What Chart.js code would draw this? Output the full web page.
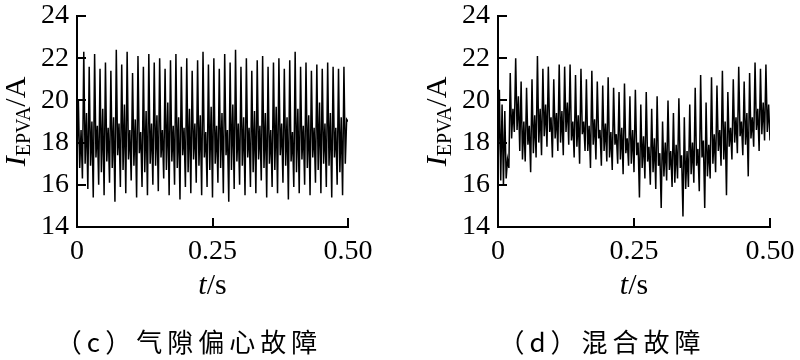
<!DOCTYPE html>
<html>
<head>
<meta charset="utf-8">
<script src="https://cdn.jsdelivr.net/npm/chart.js@4.4.1/dist/chart.umd.min.js"></script>
<style>
  body { margin: 0; background: #fff; }
  #wrap { display: flex; width: 800px; height: 360px; }
  canvas { display: block; }
</style>
</head>
<body>
<div id="wrap">
  <canvas id="panelC" width="400" height="360"></canvas>
  <canvas id="panelD" width="400" height="360"></canvas>
</div>
<script>
// sampling step of the current traces (s)
const sampleStep = 0.0025;

// (c) air-gap eccentricity fault, current I_EPVA in A
const gapFaultCurrent = [
  17.2, 20.0, 16.8, 18.6,  16.3, 22.3, 17.0, 19.4,  15.8, 21.6, 16.9, 19.0,  15.4, 22.2, 17.3, 18.8,
  16.0, 21.5, 16.6, 19.6,  15.5, 21.8, 17.1, 18.7,  16.1, 21.4, 16.8, 19.2,  15.2, 22.4, 17.4, 18.9,
  15.9, 21.7, 16.7, 19.8,  15.6, 22.3, 17.2, 18.6,  16.2, 21.3, 16.9, 19.1,  15.4, 22.1, 17.5, 18.5,
  15.9, 21.6, 16.6, 19.5,  15.5, 22.2, 17.0, 18.9,  16.0, 21.8, 16.9, 19.3,  15.7, 22.0, 17.3, 18.6,
  16.3, 21.5, 16.7, 19.9,  15.5, 21.9, 17.1, 18.8,  16.0, 22.2, 16.8, 19.2,  15.3, 21.6, 17.4, 18.7,
  15.9, 22.0, 16.6, 19.6,  15.6, 21.4, 17.2, 18.9,  16.1, 21.9, 16.9, 19.3,  15.5, 22.3, 17.3, 18.5,
  15.9, 21.7, 16.7, 19.7,  15.4, 22.0, 17.0, 18.8,  16.1, 21.5, 16.8, 19.4,  15.6, 22.2, 17.4, 18.6,
  15.2, 21.8, 16.7, 19.8,  15.8, 22.4, 17.1, 18.9,  16.0, 21.6, 16.9, 19.2,  15.5, 22.0, 17.3, 18.7,
  15.9, 21.4, 16.6, 19.5,  15.6, 21.9, 17.2, 18.8,  16.2, 22.1, 16.8, 19.4,  15.4, 21.6, 17.0, 18.6,
  15.9, 21.8, 16.7, 19.7,  15.6, 22.0, 17.4, 18.9,  16.1, 21.5, 16.9, 19.2,  15.3, 21.9, 17.1, 18.5,
  15.9, 22.3, 16.6, 19.6,  15.6, 21.6, 17.2, 18.8,  16.0, 21.8, 16.8, 19.3,  15.5, 21.4, 17.3, 18.7,
  16.1, 21.7, 16.7, 19.9,  15.6, 21.5, 17.0, 18.9,  15.9, 21.8, 16.9, 19.4,  15.4, 21.6, 17.3, 18.7,
  16.0, 21.5, 16.6, 19.2,  15.5, 21.6, 17.0, 19.1,
  19.0
];

// (d) mixed fault, current I_EPVA in A
const mixedFaultCurrent = [
  16.5, 20.5, 16.2, 19.8,  16.0, 19.5, 16.3, 17.2,  16.8, 21.3, 18.2, 19.6,  18.5, 22.0, 18.6, 20.2,
  17.6, 20.9, 17.2, 19.0,  17.1, 20.6, 17.9, 18.8,  16.6, 21.0, 17.5, 19.3,  17.3, 22.1, 18.0, 19.6,
  17.4, 21.5, 18.3, 19.8,  17.8, 21.6, 18.5, 19.2,  17.3, 21.0, 18.2, 19.4,  17.6, 21.7, 18.0, 19.5,
  17.4, 21.6, 18.5, 19.9,  17.9, 21.7, 18.1, 19.0,  17.3, 21.2, 17.8, 19.3,  17.0, 21.5, 18.4, 19.0,
  17.6, 21.0, 17.6, 18.8,  16.8, 21.4, 17.9, 19.1,  17.2, 20.9, 18.2, 18.6,  16.9, 20.7, 17.6, 18.9,
  17.1, 21.1, 17.3, 18.5,  16.7, 20.6, 17.9, 18.4,  17.0, 20.4, 17.2, 18.7,  16.5, 20.8, 17.5, 18.2,
  16.9, 20.2, 17.0, 18.6,  16.6, 20.5, 17.4, 18.0,  15.4, 19.8, 16.8, 18.3,  16.3, 20.4, 17.1, 17.8,
  16.0, 19.6, 16.6, 18.2,  15.8, 20.2, 16.9, 17.5,  14.9, 19.0, 16.4, 18.0,  16.2, 20.0, 16.7, 17.6,
  15.9, 19.4, 16.1, 17.9,  16.3, 20.1, 16.8, 17.4,  14.5, 19.2, 15.8, 17.6,  15.9, 19.8, 16.5, 18.0,
  16.1, 20.6, 16.9, 17.7,  15.7, 21.2, 17.3, 18.1,  14.9, 19.9, 16.4, 17.9,  16.3, 21.1, 17.0, 18.4,
  16.6, 20.7, 17.6, 18.6,  16.9, 21.4, 17.2, 19.0,  15.5, 20.4, 17.8, 18.7,  17.2, 21.0, 18.0, 19.2,
  17.5, 21.6, 18.3, 19.0,  17.4, 20.9, 17.9, 19.4,  16.4, 21.3, 18.2, 19.2,  17.8, 21.8, 18.6, 19.6,
  17.6, 21.5, 18.4, 19.9,  18.1, 21.7, 18.5, 19.8,
  18.1
];

const yMin = 14;
const yMax = 24;
const yStep = 2;
const xTicks = [0, 0.25, 0.5];
const xTickLabels = ['0', '0.25', '0.50'];
const captions = ['（c）气隙偏心故障', '（d）混合故障'];

const serif = 'Liberation Serif';

// draws a string made of pieces with their own font and baseline shift
function drawPieces(ctx, pieces, cx, baseY) {
  let total = 0;
  pieces.forEach(p => { ctx.font = p.font; p.w = ctx.measureText(p.text).width; total += p.w; });
  let x = cx - total / 2;
  pieces.forEach(p => {
    ctx.font = p.font;
    ctx.fillText(p.text, x, baseY + (p.dy || 0));
    x += p.w;
  });
}

const panelText = {
  id: 'panelText',
  afterDraw(chart, args, opts) {
    const ctx = chart.ctx;
    const a = chart.chartArea;
    ctx.save();
    ctx.fillStyle = '#000';
    ctx.textAlign = 'left';
    ctx.textBaseline = 'alphabetic';

    // y title: I_EPVA/A
    ctx.save();
    ctx.translate(opts.yTitleX, (a.top + a.bottom) / 2);
    ctx.rotate(-Math.PI / 2);
    drawPieces(ctx, [
      { text: 'I', font: 'italic 30px ' + serif },
      { text: 'EPVA', font: '20px ' + serif, dy: 5 },
      { text: '/A', font: '30px ' + serif }
    ], 0, 0);
    ctx.restore();

    // x title: t/s
    drawPieces(ctx, [
      { text: 't', font: 'italic 30px ' + serif },
      { text: '/s', font: '30px ' + serif }
    ], (a.left + a.right) / 2, 294);

    // caption
    ctx.font = '26px "Noto Sans CJK SC"';
    ctx.letterSpacing = '5px';
    ctx.textAlign = 'center';
    ctx.fillText(opts.caption, opts.captionX, 352);
    ctx.restore();
  }
};

function makePanel(id, values, caption, axisWidth, padRight, yTitleX, captionX) {
  const points = values.map((v, i) => ({ x: i * sampleStep, y: v }));
  const tickFont = { family: serif, size: 28 };
  return new Chart(document.getElementById(id), {
    type: 'line',
    data: {
      datasets: [{
        data: points,
        borderColor: '#000',
        borderWidth: 1.5,
        pointRadius: 0,
        tension: 0,
        fill: false
      }]
    },
    options: {
      responsive: false,
      animation: false,
      layout: { padding: { top: 16, left: 0, right: padRight, bottom: 0 } },
      plugins: {
        legend: { display: false },
        tooltip: { enabled: false },
        panelText: { caption: caption, captionX: captionX, yTitleX: yTitleX }
      },
      scales: {
        x: {
          type: 'linear',
          min: 0,
          max: 0.5,
          afterBuildTicks: s => { s.ticks = xTicks.map(v => ({ value: v })); },
          afterFit: s => { s.height = 133; s.paddingLeft = 0; s.paddingRight = 0; },
          ticks: {
            callback: v => xTickLabels[xTicks.indexOf(v)],
            font: tickFont,
            color: '#000',
            padding: 17,
            maxRotation: 0,
            autoSkip: false
          },
          grid: { drawOnChartArea: false, tickLength: -9, color: '#000', lineWidth: 2 },
          border: { color: '#000', width: 2 }
        },
        y: {
          min: yMin,
          max: yMax,
          afterFit: s => { s.width = axisWidth; s.paddingTop = 0; s.paddingBottom = 0; },
          ticks: { stepSize: yStep, font: tickFont, color: '#000', padding: 17 },
          grid: { drawOnChartArea: false, tickLength: -9, color: '#000', lineWidth: 2 },
          border: { color: '#000', width: 2 }
        }
      }
    },
    plugins: [panelText]
  });
}

makePanel('panelC', gapFaultCurrent, captions[0], 77, 52, 25, 189);
makePanel('panelD', mixedFaultCurrent, captions[1], 98, 30, 46, 202);
</script>
</body>
</html>
